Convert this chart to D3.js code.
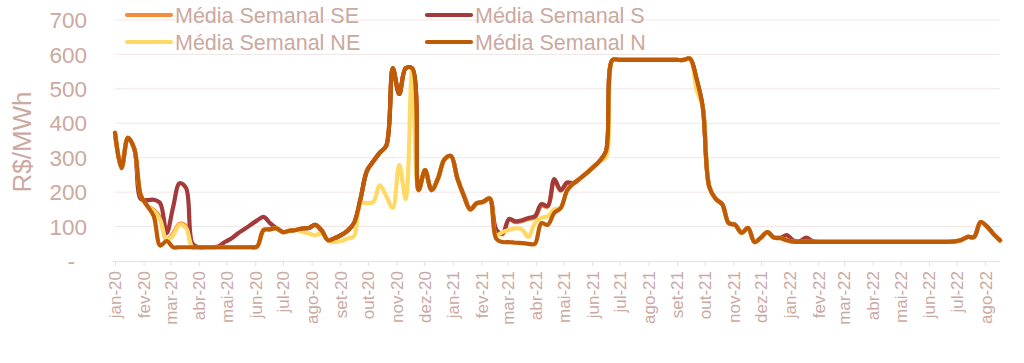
<!DOCTYPE html>
<html>
<head>
<meta charset="utf-8">
<script src="https://cdn.jsdelivr.net/npm/d3@7"></script>
<style>
  body { margin: 0; background: #fff; }
  text { font-family: "Liberation Sans", Arial, sans-serif; fill: #CBA9A1; }
</style>
</head>
<body>
<svg id="chart" width="1024" height="363"></svg>
<script>
// weekly averages, R$/MWh, first week 2020-01-01
let monthNames = ['jan','fev','mar','abr','mai','jun','jul','ago','set','out','nov','dez']
let yTickValues = [0, 100, 200, 300, 400, 500, 600, 700]
let yTickLabels = ['-', '100', '200', '300', '400', '500', '600', '700']

let seriesNames = ['Média Semanal SE', 'Média Semanal S', 'Média Semanal NE', 'Média Semanal N']

let mediaN = [
  372, 270, 358, 325, 190, 160, 130, 45, 58, 40,
  40, 40, 40, 40, 40, 40, 40, 40, 40, 40,
  40, 40, 42, 90, 92, 95, 84, 88, 90, 94,
  96, 105, 88, 60, 66, 75, 88, 110, 180, 262,
  290, 315, 335, 560, 485, 560, 560, 206, 264, 206,
  240, 295, 305, 240, 190, 150, 168, 172, 182, 65,
  55, 55, 53, 52, 50, 50, 110, 105, 140, 154,
  205, 226, 240, 255, 272, 290, 318, 584, 584, 584,
  584, 584, 584, 584, 584, 584, 584, 584, 584, 588,
  530, 445, 215, 180, 165, 110, 105, 82, 96, 55,
  68, 84, 68, 67, 60, 56, 55.7, 55.7, 55.7, 55.7,
  55.7, 55.7, 55.7, 55.7, 55.7, 55.7, 55.7, 55.7, 55.7, 55.7,
  55.7, 55.7, 55.7, 55.7, 55.7, 55.7, 55.7, 55.7, 55.7, 55.7,
  57, 61, 70, 70, 113, 100, 78, 60
]

let mediaS = [
  372, 270, 358, 325, 180, 177, 178, 168, 81, 157,
  226, 212, 50, 40, 40, 40, 42, 55, 65, 80,
  92, 105, 118, 128, 110, 95, 84, 88, 90, 94,
  96, 105, 88, 60, 66, 75, 88, 110, 180, 262,
  290, 315, 335, 560, 485, 560, 560, 206, 264, 206,
  240, 295, 305, 240, 190, 150, 168, 172, 182, 92,
  80, 122, 115, 118, 125, 130, 165, 160, 238, 206,
  228, 226, 240, 255, 272, 290, 318, 584, 584, 584,
  584, 584, 584, 584, 584, 584, 584, 584, 584, 588,
  530, 445, 215, 180, 165, 110, 105, 82, 96, 55,
  68, 84, 68, 67, 75, 60, 58, 68, 58, 55.7,
  55.7, 55.7, 55.7, 55.7, 55.7, 55.7, 55.7, 55.7, 55.7, 55.7,
  55.7, 55.7, 55.7, 55.7, 55.7, 55.7, 55.7, 55.7, 55.7, 55.7,
  57, 61, 70, 70, 113, 100, 78, 60
]

let mediaSE = [
  372, 270, 358, 325, 190, 160, 148, 125, 60, 80,
  108, 102, 40, 40, 40, 40, 40, 40, 40, 40,
  40, 40, 42, 90, 92, 95, 84, 88, 90, 94,
  96, 105, 88, 60, 66, 75, 88, 110, 180, 262,
  290, 315, 335, 560, 485, 560, 560, 206, 264, 206,
  240, 295, 305, 240, 190, 150, 168, 172, 182, 90,
  78, 120, 113, 116, 122, 126, 160, 158, 232, 204,
  226, 226, 240, 255, 272, 290, 318, 584, 584, 584,
  584, 584, 584, 584, 584, 584, 584, 584, 584, 588,
  530, 445, 215, 180, 165, 110, 105, 82, 96, 55,
  68, 84, 68, 67, 60, 56, 55.7, 55.7, 55.7, 55.7,
  55.7, 55.7, 55.7, 55.7, 55.7, 55.7, 55.7, 55.7, 55.7, 55.7,
  55.7, 55.7, 55.7, 55.7, 55.7, 55.7, 55.7, 55.7, 55.7, 55.7,
  57, 61, 70, 70, 113, 100, 78, 60
]

let mediaNE = [
  372, 270, 358, 325, 190, 160, 145, 119, 60, 75,
  105, 96, 40, 40, 40, 40, 40, 40, 40, 40,
  40, 40, 42, 90, 92, 95, 84, 88, 90, 84,
  80, 75, 80, 60, 55, 58, 65, 72, 168, 168,
  172, 220, 188, 154, 279, 180, 560, 206, 264, 206,
  240, 295, 305, 240, 190, 150, 168, 172, 182, 75,
  84, 90, 95, 92, 70, 110, 125, 130, 150, 154,
  205, 226, 240, 255, 272, 290, 300, 584, 584, 584,
  584, 584, 584, 584, 584, 584, 584, 584, 584, 588,
  500, 445, 215, 180, 165, 110, 105, 82, 96, 55,
  68, 84, 68, 67, 60, 56, 55.7, 55.7, 55.7, 55.7,
  55.7, 55.7, 55.7, 55.7, 55.7, 55.7, 55.7, 55.7, 55.7, 55.7,
  55.7, 55.7, 55.7, 55.7, 55.7, 55.7, 55.7, 55.7, 55.7, 55.7,
  57, 61, 70, 70, 113, 100, 78, 60
]

let seriesValues = [mediaSE, mediaS, mediaNE, mediaN]
let colors = ['#F58C3C', '#A23B3A', '#FFD966', '#BF5B06']

let weekStart = new Date(Date.UTC(2020, 0, 1))
let weeks = d3.range(mediaN.length).map((i) => d3.utcDay.offset(weekStart, 7 * i))

let svg = d3.select('#chart')

let x = d3.scaleUtc()
    .domain([weekStart, weeks[weeks.length - 1]])
    .range([115, 1000])

let y = d3.scaleLinear()
    .domain([0, 700])
    .range([261, 20])

// gridlines
svg.append('g')
   .selectAll('line')
   .data(yTickValues.slice(1))
   .enter()
   .append('line')
   .attr('x1', 115)
   .attr('x2', 1000)
   .attr('y1', (d) => y(d))
   .attr('y2', (d) => y(d))
   .attr('stroke', '#F1E6E5')
   .attr('stroke-width', 1)

// y labels
svg.append('g')
   .selectAll('text')
   .data(yTickValues)
   .enter()
   .append('text')
   .attr('x', (d, i) => i === 0 ? 75 : 87)
   .attr('y', (d) => y(d))
   .attr('dy', '0.36em')
   .attr('text-anchor', 'end')
   .style('font-size', '22.5px')
   .text((d, i) => yTickLabels[i])

svg.append('text')
   .attr('transform', 'translate(31,142) rotate(-90)')
   .attr('text-anchor', 'middle')
   .style('font-size', '26px')
   .text('R$/MWh')

// x axis
let months = d3.utcMonth.range(weekStart, d3.utcDay.offset(weeks[weeks.length - 1], 1))
let xAxis = d3.axisBottom(x)
    .tickValues(months)
    .tickSize(5)
    .tickFormat((d) => monthNames[d.getUTCMonth()] + '-' + String(d.getUTCFullYear() % 100).padStart(2, '0'))

let xg = svg.append('g')
   .attr('transform', 'translate(0,' + y(0) + ')')
   .call(xAxis)

xg.select('.domain').attr('stroke', '#EBDDDB').attr('d', 'M113,0.5H1000')
xg.selectAll('.tick line').attr('stroke', '#EBDDDB')
xg.selectAll('.tick text')
  .attr('transform', 'rotate(-90)')
  .attr('text-anchor', 'end')
  .attr('x', -10)
  .attr('y', 0)
  .attr('dy', '0.35em')
  .style('font-size', '17px')
  .style('font-family', '"Liberation Sans", Arial, sans-serif')
  .attr('fill', '#CBA9A1')

// lines
let line = d3.line()
    .x((d, i) => x(weeks[i]))
    .y((d) => y(d))
    .curve(d3.curveCatmullRom.alpha(0.5))

svg.append('g')
   .selectAll('path')
   .data(seriesValues)
   .enter()
   .append('path')
   .attr('d', (d) => line(d))
   .attr('fill', 'none')
   .attr('stroke', (d, i) => colors[i])
   .attr('stroke-width', 4.2)
   .attr('stroke-linejoin', 'round')
   .attr('stroke-linecap', 'round')

// legend
let legendPos = [[127, 15], [427, 15], [127, 42], [427, 42]]
let legend = svg.append('g')
    .selectAll('g')
    .data(seriesNames)
    .enter()
    .append('g')
    .attr('transform', (d, i) => 'translate(' + legendPos[i][0] + ',' + legendPos[i][1] + ')')

legend.append('line')
      .attr('x1', 0)
      .attr('x2', 44)
      .attr('stroke', (d, i) => colors[i])
      .attr('stroke-width', 4.2)
      .attr('stroke-linecap', 'round')

legend.append('text')
      .attr('x', 48)
      .attr('dy', '0.36em')
      .style('font-size', '21.5px')
      .text((d) => d)
</script>
</body>
</html>
